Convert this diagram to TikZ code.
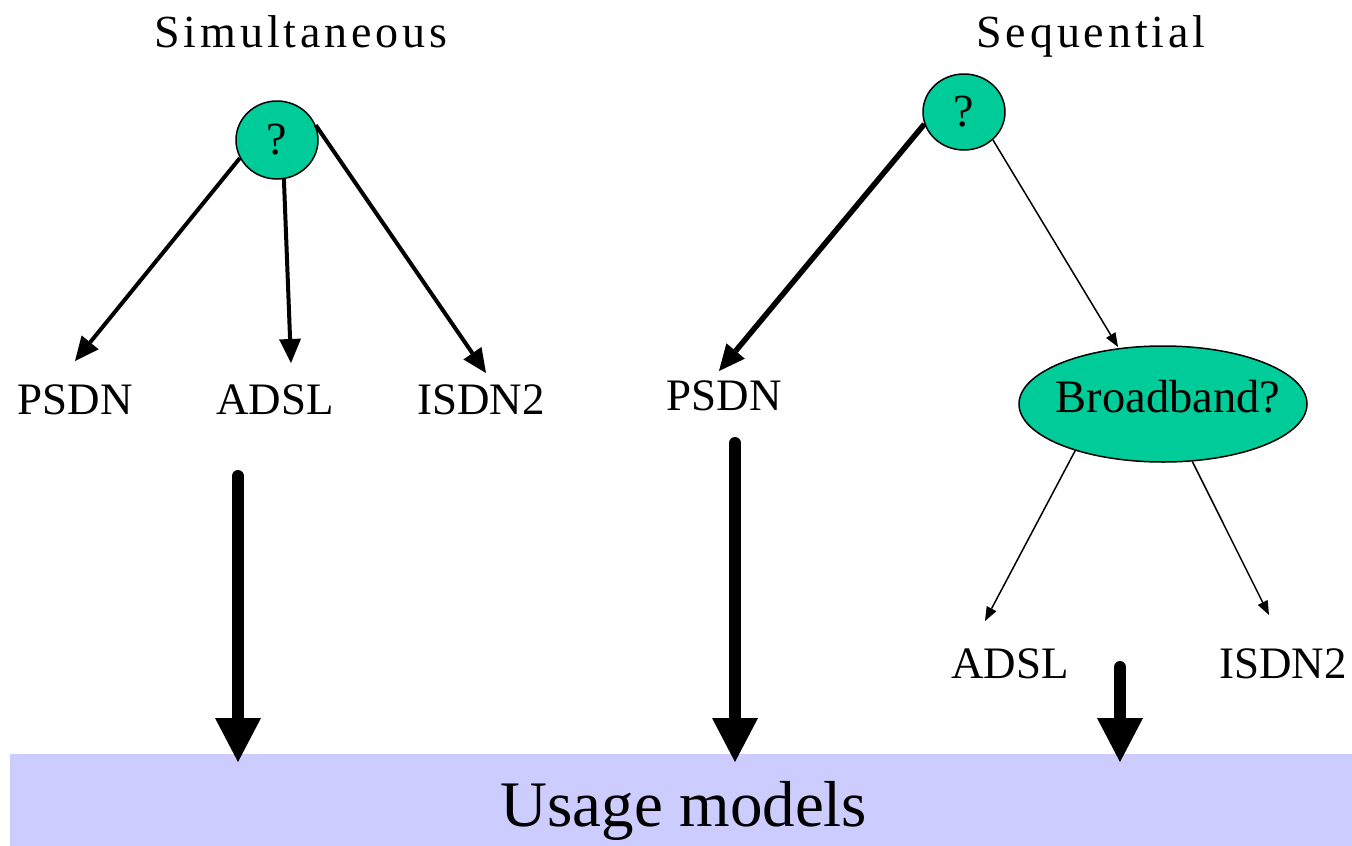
\documentclass[tikz,border=0pt]{standalone}
\usepackage{fontspec}
\setmainfont{Liberation Serif}
\usetikzlibrary{shapes.geometric,arrows.meta}
\definecolor{teal}{RGB}{0,204,153}
\definecolor{band}{RGB}{204,204,255}
\begin{document}
\begin{tikzpicture}[x=1pt,y=-1pt,
  qnode/.style={ellipse,draw=black,line width=1.5pt,fill=teal,inner sep=0pt},
  lbl/.style={anchor=base,inner sep=0pt,font=\fontsize{45}{54}\selectfont},
  ttl/.style={anchor=base,inner sep=0pt,font=\fontsize{46}{54}\selectfont\addfontfeature{LetterSpace=8.5}},
  medarrow/.style={line width=4pt,-{Triangle[length=24pt,width=22pt,line width=0pt]}},
  thkarrow/.style={line width=5.5pt,-{Triangle[length=26pt,width=24pt,line width=0pt]}},
  thinarrow/.style={line width=1.5pt,-{Triangle[length=14pt,width=11pt,line width=0pt]}},
  bigarrow/.style={line width=12pt,line cap=round,-{Triangle[length=44pt,width=46pt,line width=0pt]}}]
\useasboundingbox (0,0) rectangle (1352,846);
% band
\fill[band] (10,754) rectangle (1352,846);
\node[anchor=base,inner sep=0pt,font=\fontsize{65}{78}\selectfont] (usage) at (684,826) {Usage models};
% titles
\node[ttl] (sim) at (301,47) {Simultaneous};
\node[ttl] (seq) at (1091,47) {Sequential};
% left tree
\node[qnode,minimum width=82pt,minimum height=78pt] (q1) at (277,140) {\fontsize{46}{54}\selectfont ?};
\node[lbl] (psdnL) at (75,414) {PSDN};
\node[lbl] (adslL) at (275,414) {ADSL};
\node[lbl] (isdnL) at (481,414) {ISDN2};
\coordinate (tP1) at (75,361);
\coordinate (tA1) at (291,363);
\coordinate (tI1) at (486,373);
\draw[medarrow] (q1.206) -- (tP1);
\draw[medarrow] (q1.-80) -- (tA1);
\draw[medarrow] (q1.21) -- (tI1);
% right tree
\node[qnode,minimum width=82pt,minimum height=76pt] (q2) at (964,112) {\fontsize{46}{54}\selectfont ?};
\node[lbl] (psdnR) at (724,410) {PSDN};
\node[qnode,minimum width=288pt,minimum height=116pt] (bb) at (1163,404) {};
\node[anchor=base,inner sep=0pt,font=\fontsize{46.5}{54}\selectfont] (bbt) at (1168,412) {Broadband?};
\node[lbl] (adslR) at (1010,678) {ADSL};
\node[lbl] (isdnR) at (1283,678) {ISDN2};
\coordinate (tP2) at (719,371);
\coordinate (tB) at (1118,347);
\coordinate (tA2) at (985,621);
\coordinate (tI2) at (1269,615);
\draw[thkarrow] (q2.197) -- (tP2);
\draw[thinarrow] (q2.-44) -- (tB);
\draw[thinarrow] (bb.208) -- (tA2);
\draw[thinarrow] (bb.-63.4) -- (tI2);
% big arrows
\coordinate (s1) at (238,476);
\coordinate (e1) at (238,762);
\coordinate (s2) at (735,443);
\coordinate (e2) at (735,762);
\coordinate (s3) at (1120,667);
\coordinate (e3) at (1120,762);
\draw[bigarrow] (s1) -- (e1);
\draw[bigarrow] (s2) -- (e2);
\draw[bigarrow] (s3) -- (e3);
\end{tikzpicture}
\end{document}
